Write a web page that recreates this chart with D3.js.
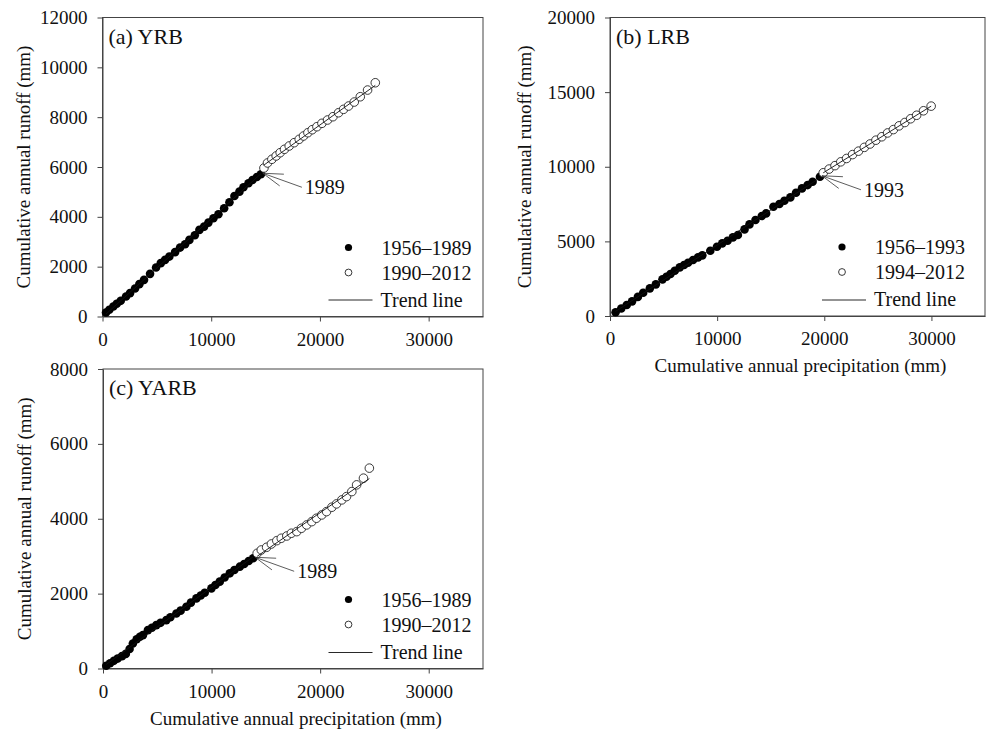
<!DOCTYPE html>
<html>
<meta charset="utf-8">
<style>
  body { margin: 0; background: #fff; }
  svg { display: block; background: #fff; }
  text { font-family: 'Liberation Serif', 'Times New Roman', serif; fill: #111; }
  .axis path, .axis line { stroke: #444; }
</style>
<body>
<svg width="987" height="733"></svg>

<script src="https://d3js.org/d3.v7.min.js"></script>
<script>
  // (a) YRB  cumulative precipitation / runoff (mm)
  let yrbPrecipEarly = [322, 626, 995, 1307, 1676, 2164, 2532, 2993, 3390, 3821, 4374, 4926, 5359, 5755, 6151, 6676, 7136, 7597, 7993, 8490, 8913, 9346, 9742, 10203, 10663, 11188, 11676, 12136, 12597, 12965, 13426, 13794, 14199, 14568];
  let yrbRunoffEarly = [160, 269, 401, 509, 629, 802, 938, 1123, 1299, 1471, 1712, 1964, 2141, 2273, 2405, 2582, 2766, 2902, 3075, 3263, 3476, 3608, 3769, 3945, 4105, 4346, 4586, 4839, 5011, 5187, 5348, 5480, 5600, 5709];
  let yrbPrecipLate = [14850, 15175, 15580, 15976, 16344, 16740, 17173, 17633, 18094, 18490, 18895, 19291, 19724, 20184, 20700, 21197, 21713, 22173, 22634, 23158, 23711, 24383, 25093];
  let yrbRunoffLate = [5960, 6162, 6310, 6443, 6575, 6711, 6843, 6976, 7112, 7244, 7377, 7497, 7617, 7753, 7886, 8018, 8178, 8315, 8447, 8607, 8820, 9088, 9381];

  // (b) LRB
  let lrbPrecipEarly = [520, 1050, 1560, 2060, 2600, 3100, 3720, 4278, 4898, 5270, 5642, 6045, 6510, 6913, 7285, 7750, 8215, 8618, 9362, 9982, 10476, 10974, 11470, 11935, 12555, 13020, 13578, 14168, 14570, 15252, 15810, 16275, 16833, 17360, 17918, 18445, 18910, 19595];
  let lrbRunoffEarly = [250, 500, 740, 980, 1280, 1560, 1853, 2121, 2456, 2634, 2812, 3035, 3259, 3415, 3571, 3750, 3928, 4062, 4374, 4643, 4866, 5044, 5268, 5424, 5804, 6139, 6428, 6696, 6874, 7320, 7500, 7723, 7946, 8259, 8549, 8772, 8995, 9328];
  let lrbPrecipLate = [19902, 20450, 21000, 21540, 22080, 22640, 23190, 23740, 24270, 24820, 25370, 25910, 26450, 26980, 27520, 28060, 28620, 29260, 29974];
  let lrbRunoffLate = [9596, 9845, 10075, 10330, 10555, 10815, 11045, 11300, 11525, 11780, 12010, 12265, 12490, 12740, 12965, 13215, 13450, 13750, 14062];

  // (c) YARB
  let yarbPrecipEarly = [300, 650, 1000, 1350, 1750, 2100, 2450, 2750, 3100, 3400, 3674, 4135, 4500, 4910, 5300, 5833, 6200, 6756, 7150, 7679, 8100, 8602, 9000, 9368, 9987, 10350, 10753, 11200, 11676, 12100, 12599, 13000, 13420, 13830];
  let yarbRunoffEarly = [75, 140, 205, 265, 330, 390, 520, 669, 780, 850, 891, 1025, 1090, 1159, 1220, 1293, 1370, 1471, 1545, 1650, 1760, 1873, 1950, 2024, 2141, 2230, 2320, 2430, 2542, 2630, 2720, 2790, 2870, 2944];
  let yarbPrecipLate = [14200, 14580, 15070, 15510, 16010, 16420, 16930, 17350, 17850, 18280, 18760, 19230, 19660, 20150, 20590, 21080, 21510, 22000, 22430, 22920, 23360, 23990, 24533];
  let yarbRunoffLate = [3077, 3166, 3238, 3326, 3415, 3479, 3540, 3613, 3656, 3746, 3835, 3923, 4014, 4102, 4191, 4308, 4397, 4504, 4592, 4726, 4905, 5084, 5352];

  let xTicks = [0, 10000, 20000, 30000];
  let panels = [
    {label: "(a) YRB", yMax: 12000, yTicks: [0, 2000, 4000, 6000, 8000, 10000, 12000],
     early: [yrbPrecipEarly, yrbRunoffEarly], late: [yrbPrecipLate, yrbRunoffLate],
     legend: ["1956\u20131989", "1990\u20132012"], breakYear: "1989",
     box: {left: 102.5, top: 17.5, width: 380.5, height: 299}, xTitle: false, legendX: 246, yTitleOff: 73},
    {label: "(b) LRB", yMax: 20000, yTicks: [0, 5000, 10000, 15000, 20000],
     early: [lrbPrecipEarly, lrbRunoffEarly], late: [lrbPrecipLate, lrbRunoffLate],
     legend: ["1956\u20131993", "1994\u20132012"], breakYear: "1993",
     box: {left: 610, top: 17.5, width: 375, height: 298.5}, xTitle: true, legendX: 232, yTitleOff: 79},
    {label: "(c) YARB", yMax: 8000, yTicks: [0, 2000, 4000, 6000, 8000],
     early: [yarbPrecipEarly, yarbRunoffEarly], late: [yarbPrecipLate, yarbRunoffLate],
     legend: ["1956\u20131989", "1990\u20132012"], breakYear: "1989",
     box: {left: 103, top: 369, width: 380, height: 299.5}, xTitle: true, legendX: 245.5, yTitleOff: 72}
  ];

  let svg = d3.select("svg");

  // least squares fit for the trend lines
  function fit(xs, ys) {
    let mx = d3.mean(xs), my = d3.mean(ys);
    let sxy = d3.sum(xs, (x, i) => (x - mx) * (ys[i] - my));
    let sxx = d3.sum(xs, x => (x - mx) * (x - mx));
    let b = sxy / sxx;
    return {a: my - b * mx, b: b};
  }

  panels.forEach(function(p) {
    let B = p.box;
    let g = svg.append("g").attr("transform", "translate(" + B.left + "," + B.top + ")");

    let xScale = d3.scaleLinear().domain([0, 35000]).range([0, B.width]);
    let yScale = d3.scaleLinear().domain([0, p.yMax]).range([B.height, 0]);

    // frame
    g.append("rect").attr("width", B.width).attr("height", B.height)
      .attr("fill", "none").attr("stroke", "#444").attr("stroke-width", 1);

    g.append("g").attr("class", "axis")
      .attr("transform", "translate(0," + B.height + ")")
      .call(d3.axisBottom(xScale).tickValues(xTicks).tickFormat(d3.format("d")).tickSizeInner(5).tickSizeOuter(0).tickPadding(11))
      .call(a => a.selectAll("text").style("font-size", "19px").style("font-family", "'Liberation Serif', serif").attr("fill", "#111"));

    g.append("g").attr("class", "axis")
      .call(d3.axisLeft(yScale).tickValues(p.yTicks).tickFormat(d3.format("d")).tickSizeInner(5).tickSizeOuter(0).tickPadding(10))
      .call(a => a.selectAll("text").style("font-size", "19px").style("font-family", "'Liberation Serif', serif").attr("fill", "#111"));

    // axis titles
    g.append("text")
      .attr("transform", "translate(" + (-p.yTitleOff) + "," + (B.height / 2) + ") rotate(-90)")
      .attr("text-anchor", "middle").style("font-size", "19px")
      .text("Cumulative annual runoff (mm)");
    if (p.xTitle) {
      g.append("text")
        .attr("x", B.width / 2 + 3).attr("y", B.height + 56)
        .attr("text-anchor", "middle").style("font-size", "19px")
        .text("Cumulative annual precipitation (mm)");
    }

    // panel label
    g.append("text").attr("x", 6).attr("y", 26).style("font-size", "22px").text(p.label);

    let early = p.early[0].map((x, i) => ({x: x, y: p.early[1][i]}));
    let late = p.late[0].map((x, i) => ({x: x, y: p.late[1][i]}));

    // points
    g.append("g").selectAll("circle").data(early).join("circle")
      .attr("cx", d => xScale(d.x)).attr("cy", d => yScale(d.y)).attr("r", 4.3)
      .attr("fill", "#000");
    g.append("g").selectAll("circle").data(late).join("circle")
      .attr("cx", d => xScale(d.x)).attr("cy", d => yScale(d.y)).attr("r", 4.3)
      .attr("fill", "#fff").attr("stroke", "#222").attr("stroke-width", 0.9);

    // trend lines
    [[p.early[0], p.early[1]], [p.late[0], p.late[1]]].forEach(function(s) {
      let f = fit(s[0], s[1]);
      let x0 = d3.min(s[0]), x1 = d3.max(s[0]);
      g.append("line")
        .attr("x1", xScale(x0)).attr("y1", yScale(f.a + f.b * x0))
        .attr("x2", xScale(x1)).attr("y2", yScale(f.a + f.b * x1))
        .attr("stroke", "#111").attr("stroke-width", 0.9);
    });

    // break-year arrow
    let last = early[early.length - 1];
    let tx = xScale(last.x) + 2, ty = yScale(last.y) - 1;
    let ang = Math.atan2(14, 39);
    let ann = g.append("g").attr("stroke", "#333").attr("stroke-width", 0.8);
    ann.append("line").attr("x1", tx).attr("y1", ty).attr("x2", tx + 39).attr("y2", ty + 14);
    [-0.3, 0.3].forEach(function(da) {
      ann.append("line").attr("x1", tx).attr("y1", ty)
        .attr("x2", tx + 21 * Math.cos(ang + da)).attr("y2", ty + 21 * Math.sin(ang + da));
    });
    g.append("text").attr("x", tx + 42).attr("y", ty + 21).style("font-size", "20px").text(p.breakYear);

    // legend
    let lx = p.legendX, rows = [B.height - 69, B.height - 44, B.height - 17];
    g.append("circle").attr("cx", lx).attr("cy", rows[0]).attr("r", 3.6).attr("fill", "#000");
    g.append("circle").attr("cx", lx).attr("cy", rows[1]).attr("r", 3.4)
      .attr("fill", "#fff").attr("stroke", "#222").attr("stroke-width", 0.9);
    g.append("line").attr("x1", lx - 20).attr("x2", lx + 24).attr("y1", Math.round(rows[2]) + 0.5).attr("y2", Math.round(rows[2]) + 0.5)
      .attr("stroke", "#111").attr("stroke-width", 0.9);
    let labels = [p.legend[0], p.legend[1], "Trend line"];
    labels.forEach(function(t, i) {
      g.append("text").attr("x", lx + (i < 2 ? 33 : 32)).attr("y", rows[i] + 7)
        .style("font-size", "20px").text(t);
    });
  });
</script>
</body>
</html>
